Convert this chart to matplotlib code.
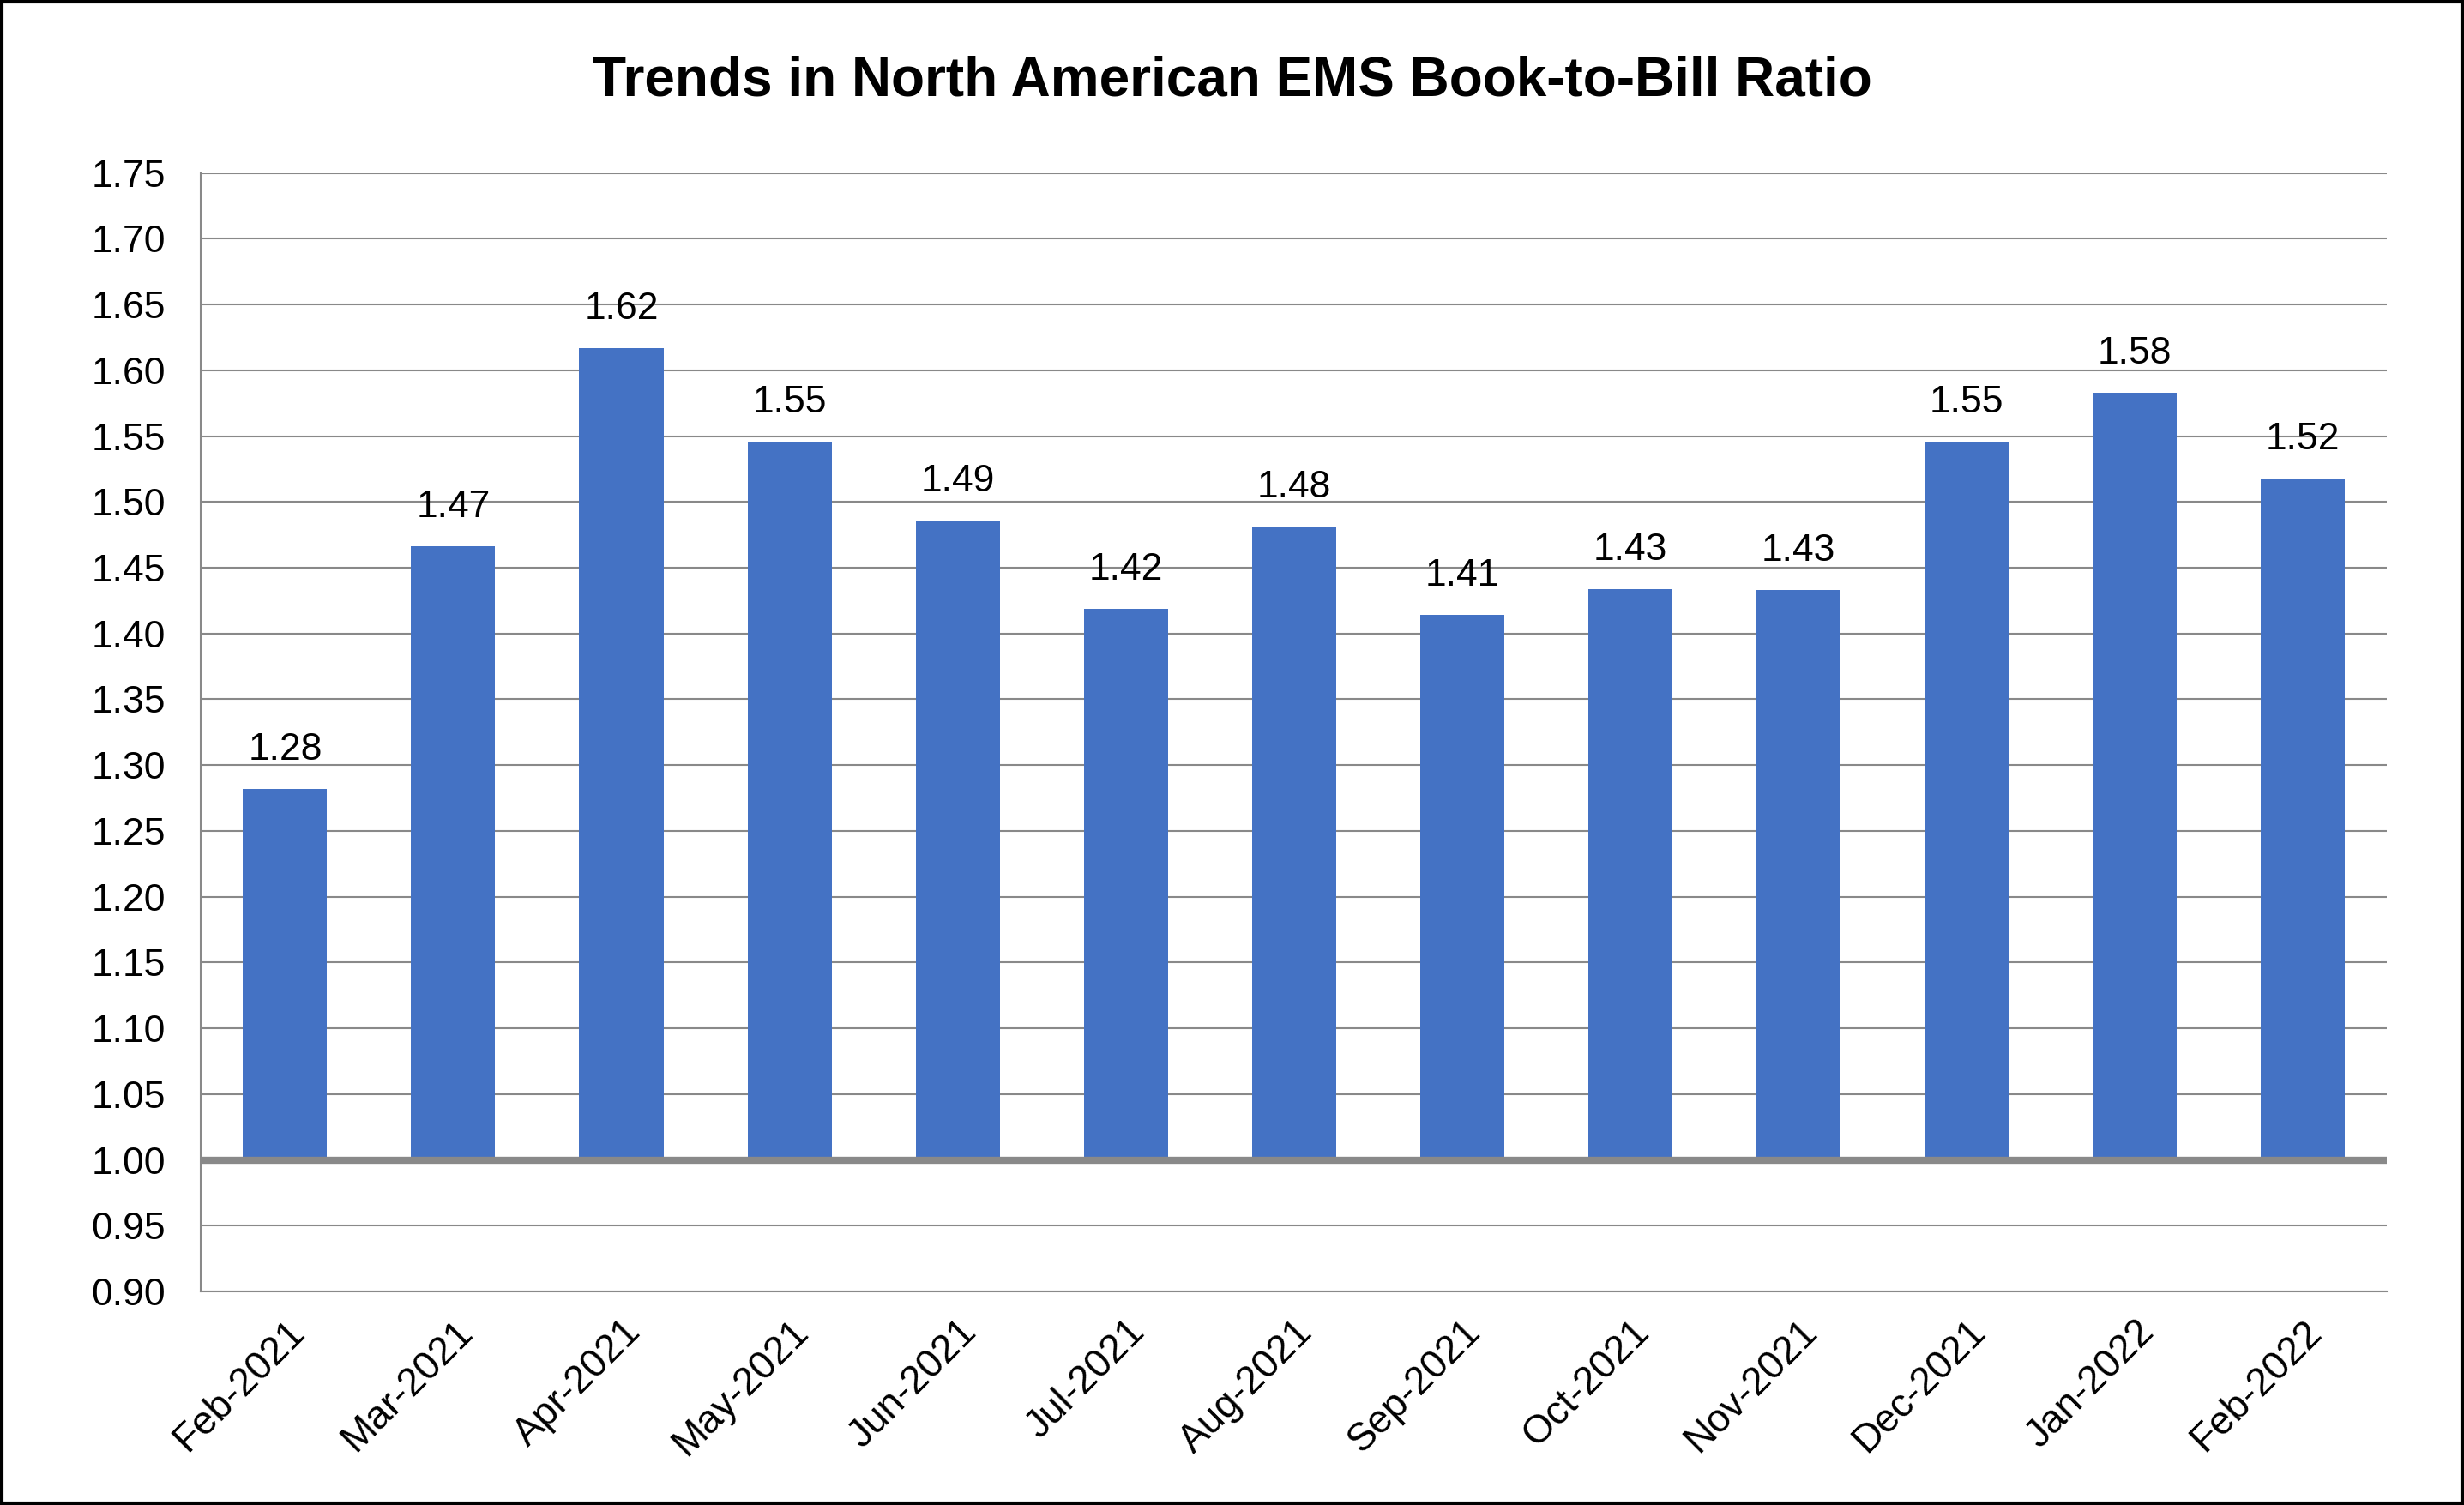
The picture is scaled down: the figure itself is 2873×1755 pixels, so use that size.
import numpy as np
import matplotlib
matplotlib.use("Agg")
import matplotlib.pyplot as plt
from matplotlib.patches import Rectangle

plt.rcParams['font.family'] = ['Liberation Sans', 'DejaVu Sans']

# data
months = ['Feb-2021', 'Mar-2021', 'Apr-2021', 'May-2021', 'Jun-2021', 'Jul-2021',
          'Aug-2021', 'Sep-2021', 'Oct-2021', 'Nov-2021', 'Dec-2021', 'Jan-2022', 'Feb-2022']
ratio = [1.282, 1.466, 1.617, 1.546, 1.486, 1.419, 1.481, 1.414, 1.434, 1.433, 1.546, 1.583, 1.518]
yticks = [0.90, 0.95, 1.00, 1.05, 1.10, 1.15, 1.20, 1.25, 1.30, 1.35, 1.40, 1.45,
          1.50, 1.55, 1.60, 1.65, 1.70, 1.75]
baseline = 1.00

bar_color = '#4472C4'
grid_color = '#898989'

fig = plt.figure(figsize=(28.73, 17.55), dpi=100)
ax = fig.add_axes([0.0816, 0.1419, 0.887, 0.7432])

x = np.arange(len(months))
heights = [v - baseline for v in ratio]
ax.bar(x, heights, bottom=baseline, width=0.5, color=bar_color, zorder=3)

# value labels above the bars
for xi, v in zip(x, ratio):
    ax.annotate('%.2f' % v, (xi, v), xytext=(0, 18), textcoords='offset points',
                ha='center', va='bottom', fontsize=32, color='black', zorder=4)

ax.set_xlim(-0.5, len(months) - 0.5)
ax.set_ylim(yticks[0], yticks[-1])
ax.set_yticks(yticks)
ax.set_yticklabels(['%.2f' % t for t in yticks])
ax.set_xticks(x)
ax.set_xticklabels(months, rotation=45, ha='right', va='top', rotation_mode='anchor')

ax.grid(axis='y', color=grid_color, linewidth=1.5, zorder=0)
ax.axhline(baseline, color=grid_color, linewidth=6, zorder=5)

for side in ['top', 'right']:
    ax.spines[side].set_visible(False)
for side in ['left', 'bottom']:
    ax.spines[side].set_color(grid_color)
    ax.spines[side].set_linewidth(1.5)

ax.tick_params(axis='y', length=0, pad=30, labelsize=32)
ax.tick_params(axis='x', length=0, pad=18, labelsize=33)

fig.text(0.5, 0.946, 'Trends in North American EMS Book-to-Bill Ratio',
         ha='center', va='center', fontsize=46, fontweight='bold')

# black frame around the whole chart
fig.patches.append(Rectangle((0.0008, 0.0012), 0.9984, 0.9976, transform=fig.transFigure,
                             fill=False, edgecolor='black', linewidth=3))

fig.savefig('out.png', dpi=100)
